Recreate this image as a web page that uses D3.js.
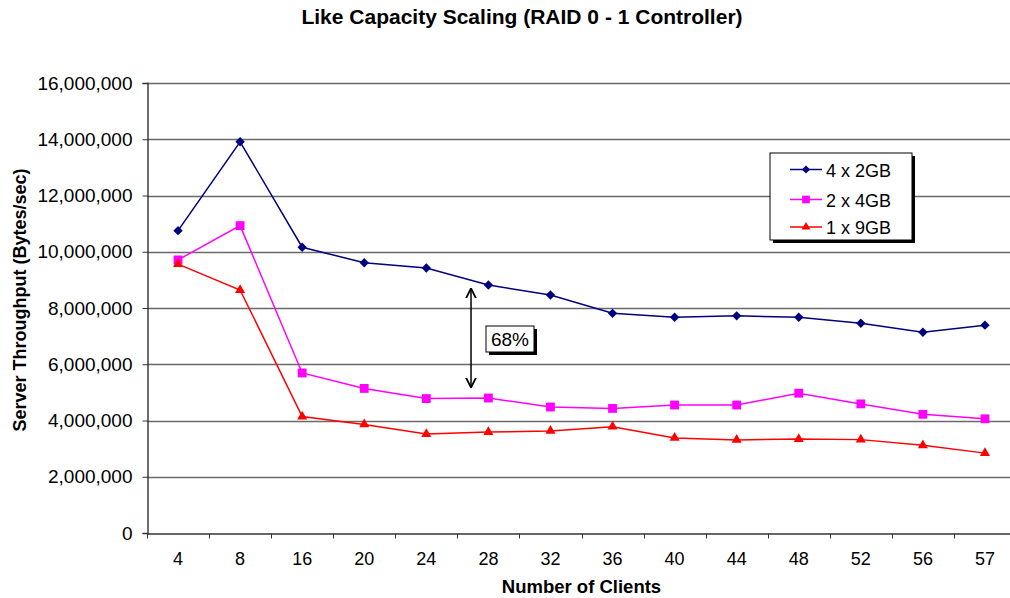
<!DOCTYPE html>
<html>
<head>
<meta charset="utf-8">
<script src="https://cdn.jsdelivr.net/npm/d3@7"></script>
<style>
  html, body { margin: 0; padding: 0; background: #fff; }
  svg { display: block; font-family: "Liberation Sans", Arial, sans-serif; }
</style>
</head>
<body>
<svg id="chart" width="1010" height="598"></svg>
<script>
// Number of clients on the x axis
const clients = ["4", "8", "16", "20", "24", "28", "32", "36", "40", "44", "48", "52", "56", "57"];

// Server throughput in bytes/sec for each disk configuration
const fourBy2GB = [10750000, 13910000, 10160000, 9610000, 9420000, 8820000, 8460000, 7810000, 7670000, 7720000, 7670000, 7460000, 7140000, 7390000];
const twoBy4GB  = [9710000, 10930000, 5690000, 5140000, 4780000, 4800000, 4480000, 4430000, 4550000, 4550000, 4970000, 4590000, 4220000, 4060000];
const oneBy9GB  = [9560000, 8640000, 4140000, 3860000, 3520000, 3590000, 3630000, 3780000, 3380000, 3310000, 3340000, 3320000, 3120000, 2840000];

const seriesNames = ["4 x 2GB", "2 x 4GB", "1 x 9GB"];
const yTicks = [0, 2000000, 4000000, 6000000, 8000000, 10000000, 12000000, 14000000, 16000000];

// Gap annotation between the 4 x 2GB and 1 x 9GB curves
const gapLabel = "68%";
const gapFrom = 8700000;
const gapTo = 5170000;

// Diamonds are squares turned by 45 degrees
const series = [
  { name: seriesNames[0], values: fourBy2GB, color: "#000080", symbol: d3.symbolSquare, size: 44, rotate: 45 },
  { name: seriesNames[1], values: twoBy4GB,  color: "#FF00FF", symbol: d3.symbolSquare, size: 78, rotate: 0 },
  { name: seriesNames[2], values: oneBy9GB,  color: "#FF0000", symbol: d3.symbolTriangle, size: 44, rotate: 0 }
];

const svg = d3.select("#chart");
const plotLeft = 147, plotRight = 1016, plotTop = 83, plotBottom = 533;
const fontFamily = "'Liberation Sans', Arial, sans-serif";

const x = d3.scaleBand().domain(clients).range([plotLeft, plotRight]);
const y = d3.scaleLinear().domain([0, 16000000]).range([plotBottom, plotTop]);
const cx = d => x(d) + x.bandwidth() / 2;
const fmt = d3.format(",");

// Horizontal gridlines
svg.append("g")
  .selectAll("line")
  .data(yTicks.filter(t => t > 0))
  .join("line")
  .attr("x1", plotLeft).attr("x2", plotRight)
  .attr("y1", d => Math.round(y(d)) + 0.5).attr("y2", d => Math.round(y(d)) + 0.5)
  .attr("stroke", "#6a6a6a").attr("stroke-width", 1.4);

// Y axis
const yAxis = svg.append("g")
  .attr("transform", `translate(${plotLeft + 0.5},0)`)
  .call(d3.axisLeft(y).tickValues(yTicks).tickFormat(fmt).tickSize(5).tickPadding(10));
yAxis.select(".domain").attr("stroke", "#333").attr("stroke-width", 1.4);
yAxis.selectAll(".tick line").attr("stroke", "#333");
yAxis.selectAll(".tick text")
  .attr("font-size", 19).attr("fill", "#000")
  .style("font-family", fontFamily);

// X axis with ticks at category boundaries
const xAxis = svg.append("g")
  .attr("transform", `translate(0,${plotBottom + 0.5})`)
  .call(d3.axisBottom(x).tickSize(0).tickPadding(0));
xAxis.select(".domain").attr("stroke", "#333").attr("stroke-width", 1.4);
xAxis.selectAll(".tick text")
  .attr("y", 31).attr("dy", null)
  .attr("font-size", 18).attr("fill", "#000")
  .style("font-family", fontFamily);
xAxis.selectAll("line.boundary")
  .data(clients.map(c => x(c)).concat([plotRight]))
  .join("line")
  .attr("class", "boundary")
  .attr("x1", d => Math.round(d) + 0.5).attr("x2", d => Math.round(d) + 0.5)
  .attr("y1", 0).attr("y2", 5)
  .attr("stroke", "#333");

// Series lines and markers
const line = d3.line().x((d, i) => cx(clients[i])).y(d => y(d));
series.forEach(s => {
  svg.append("path")
    .datum(s.values)
    .attr("d", line)
    .attr("fill", "none")
    .attr("stroke", s.color)
    .attr("stroke-width", 1.5);
  svg.append("g")
    .selectAll("path")
    .data(s.values)
    .join("path")
    .attr("transform", (d, i) => `translate(${cx(clients[i])},${y(d)}) rotate(${s.rotate})`)
    .attr("d", d3.symbol(s.symbol, s.size))
    .attr("fill", s.color);
});

// Double-headed arrow marking the gap
const defs = svg.append("defs");
["start", "end"].forEach(k => {
  defs.append("marker")
    .attr("id", "head-" + k)
    .attr("viewBox", "0 0 10 12")
    .attr("refX", 10).attr("refY", 6)
    .attr("markerWidth", 10).attr("markerHeight", 12)
    .attr("markerUnits", "userSpaceOnUse")
    .attr("orient", k === "start" ? "auto-start-reverse" : "auto")
    .append("path")
    .attr("d", "M0,1 L10,6 L0,11")
    .attr("fill", "none")
    .attr("stroke", "#000")
    .attr("stroke-width", 1.8);
});
const arrowX = cx("24") + x.bandwidth() * 0.72;
svg.append("line")
  .attr("x1", arrowX).attr("x2", arrowX)
  .attr("y1", y(gapFrom)).attr("y2", y(gapTo))
  .attr("stroke", "#000").attr("stroke-width", 1.5)
  .attr("marker-start", "url(#head-start)")
  .attr("marker-end", "url(#head-end)");

// Label box for the gap
const lbX = 486, lbY = 326, lbW = 48, lbH = 26;
svg.append("rect").attr("x", lbX + 3).attr("y", lbY + 3).attr("width", lbW).attr("height", lbH).attr("fill", "#000");
svg.append("rect").attr("x", lbX).attr("y", lbY).attr("width", lbW).attr("height", lbH)
  .attr("fill", "#fff").attr("stroke", "#000").attr("stroke-width", 1);
svg.append("text").attr("x", lbX + lbW / 2).attr("y", lbY + 20)
  .attr("text-anchor", "middle").attr("font-size", 19).text(gapLabel);

// Legend
const lgX = 770, lgY = 153, lgW = 142, lgH = 87;
svg.append("rect").attr("x", lgX + 3).attr("y", lgY + 3).attr("width", lgW).attr("height", lgH).attr("fill", "#000");
svg.append("rect").attr("x", lgX).attr("y", lgY).attr("width", lgW).attr("height", lgH)
  .attr("fill", "#fff").attr("stroke", "#000").attr("stroke-width", 1);
const rowY = [169.5, 199.5, 227];
series.forEach((s, i) => {
  const g = svg.append("g").attr("transform", `translate(0,${rowY[i]})`);
  g.append("line").attr("x1", 790).attr("x2", 822).attr("y1", 0).attr("y2", 0)
    .attr("stroke", s.color).attr("stroke-width", 1.5);
  g.append("path").attr("transform", `translate(806,0) rotate(${s.rotate})`)
    .attr("d", d3.symbol(s.symbol, s.size * 0.75)).attr("fill", s.color);
  g.append("text").attr("x", 826).attr("y", 7).attr("font-size", 18).text(s.name);
});

// Titles
svg.append("text")
  .attr("x", 522).attr("y", 24)
  .attr("text-anchor", "middle")
  .attr("font-size", 21).attr("font-weight", "bold")
  .text("Like Capacity Scaling (RAID 0 - 1 Controller)");

svg.append("text")
  .attr("x", (plotLeft + plotRight) / 2).attr("y", 593)
  .attr("text-anchor", "middle")
  .attr("font-size", 18.5).attr("font-weight", "bold")
  .text("Number of Clients");

svg.append("text")
  .attr("transform", "translate(26,300) rotate(-90)")
  .attr("text-anchor", "middle")
  .attr("font-size", 18).attr("font-weight", "bold")
  .text("Server Throughput (Bytes/sec)");
</script>
</body>
</html>
